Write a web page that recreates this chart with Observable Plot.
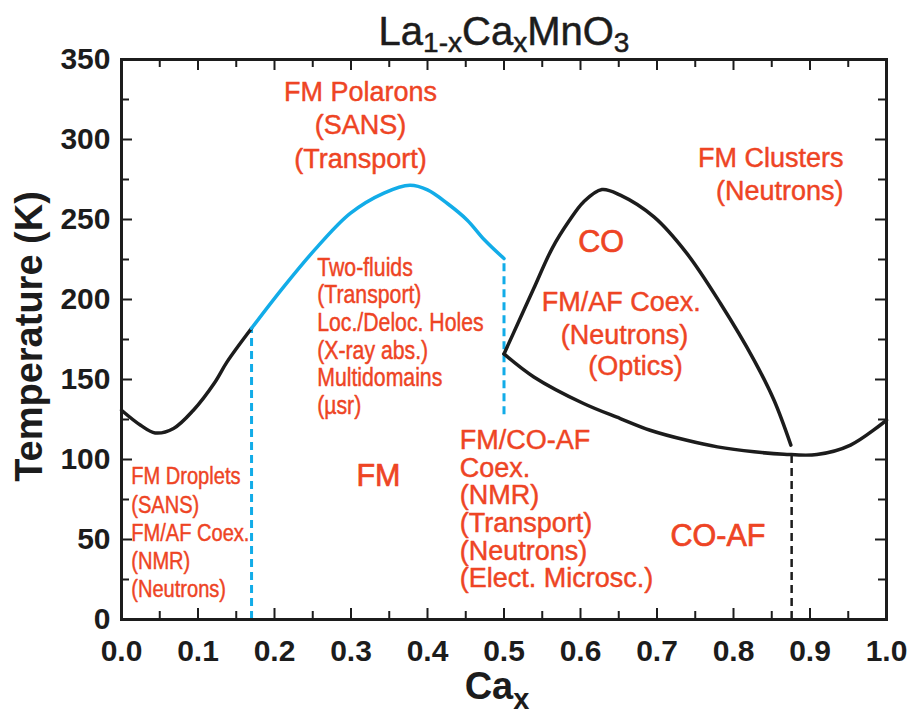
<!DOCTYPE html>
<html>
<head>
<meta charset="utf-8">
<script src="https://cdn.jsdelivr.net/npm/d3@7"></script>
<script src="https://cdn.jsdelivr.net/npm/@observablehq/plot@0.6"></script>
<style>
  html, body { margin: 0; padding: 0; background: #fff; }
  #chart { width: 907px; height: 713px; }
</style>
</head>
<body>
<div id="chart"></div>
<script>
// ---------------- data ----------------
const xMajorTicks = [0, 0.1, 0.2, 0.3, 0.4, 0.5, 0.6, 0.7, 0.8, 0.9, 1.0];
const xMinorTicks = [0.05, 0.15, 0.25, 0.35, 0.45, 0.55, 0.65, 0.75, 0.85, 0.95];
const yMajorTicks = [0, 50, 100, 150, 200, 250, 300, 350];
const yMinorTicks = [25, 75, 125, 175, 225, 275, 325];

// low-doping boundary (black)
const leftCurveX = [0, 0.025, 0.044, 0.068, 0.094, 0.121, 0.138, 0.17];
const leftCurveT = [130.8, 121.4, 116.6, 119.4, 130.8, 147.5, 161, 182];

// FM Curie temperature (blue)
const fmCurveX = [0.17, 0.212, 0.256, 0.299, 0.343, 0.377, 0.40, 0.426, 0.452, 0.474, 0.5];
const fmCurveT = [182, 207.9, 232.9, 253.8, 266.5, 271.4, 268.5, 260, 249.6, 237.5, 225.6];

// charge-order dome (black)
const coDomeX = [0.5, 0.52, 0.539, 0.563, 0.585, 0.604, 0.628, 0.652, 0.696, 0.739, 0.783, 0.827, 0.853, 0.875];
const coDomeT = [166, 187, 207, 232, 249, 261, 268.7, 265.2, 251.6, 228.8, 197.5, 162, 137, 109];

// AF / lower boundary (black)
const afCurveX = [0.5, 0.539, 0.604, 0.652, 0.691, 0.739, 0.779, 0.827, 0.866, 0.909, 0.953, 1.0];
const afCurveT = [166, 151.6, 135, 125.6, 118.3, 112, 107.9, 104.8, 103.3, 103.1, 109, 124.6];

// vertical dashed boundaries
const blueDashX = [0.17, 0.5];
const blueDashTop = [182, 225.6];
const blueDashBottom = [0, 128];
const blackDashX = [0.876];
const blackDashTop = [103];
const blackDashBottom = [0];

// titles
const titleParts = [["La", false], ["1-x", true], ["Ca", false], ["x", true], ["MnO", false], ["3", true]];
const xLabelParts = [["Ca", false], ["x", true]];
const yLabel = "Temperature (K)";

// annotations (text, x = Ca fraction, T = temperature of last baseline)
const midLabels = ["FM Polarons\n(SANS)\n(Transport)"];
const midLabelX = [0.3124];
const midLabelT = [282.5];

const coexLabels = ["FM/AF Coex.", "(Neutrons)", "(Optics)"];
const coexLabelX = [0.6533, 0.6575, 0.6719];
const coexLabelT = [193.1, 172.3, 153.1];

const clusterLabels = ["FM Clusters\n(Neutrons)"];
const clusterLabelX = [0.9438];
const clusterLabelT = [261.9];

const phaseLabels = ["CO", "FM", "CO-AF"];
const phaseLabelX = [0.627, 0.3359, 0.7797];
const phaseLabelT = [229.6, 83.75, 46.25];

const coafLabels = ["FM/CO-AF\nCoex.\n(NMR)\n(Transport)\n(Neutrons)\n(Elect. Microsc.)"];
const coafLabelX = [0.4422];
const coafLabelT = [20.1];

const twoFluidLabels = ["Two-fluids\n(Transport)\nLoc./Deloc. Holes\n(X-ray abs.)\nMultidomains\n(µsr)"];
const twoFluidLabelX = [0.2558];
const twoFluidLabelT = [128.4];

const dropletLabels = ["FM Droplets\n(SANS)\nFM/AF Coex.\n(NMR)\n(Neutrons)"];
const dropletLabelX = [0.0127];
const dropletLabelT = [13.9];

// ---------------- styles ----------------
const INK = "#1c1c1c";
const RED = "#EE4424";
const BLUE = "#12ACE8";
const FONT = "'Liberation Sans', Arial, Helvetica, sans-serif";
const FRAME_W = 907 - 121 - 21;   // inner plot width in px
const FRAME_H = 713 - 59 - 94;    // inner plot height in px
const MAJOR = 11, MINOR = 8;

const labelCommon = {fontSize: 30, fontWeight: "bold", fill: INK, label: null, tickSize: 0, stroke: "none"};
const tickStyle = {stroke: INK, strokeWidth: 2};
const redStyle = {fill: RED, stroke: RED, strokeWidth: 0.45};

const plot = Plot.plot({
  width: 907,
  height: 713,
  marginLeft: 121,
  marginRight: 21,
  marginTop: 59,
  marginBottom: 94,
  style: {fontFamily: FONT, background: "white", color: INK},
  x: {domain: [0, 1], label: null},
  y: {domain: [0, 350], label: null},
  marks: [
    // tick labels
    Plot.axisX(xMajorTicks, {...labelCommon, anchor: "bottom", tickPadding: 20, tickFormat: d3.format(".1f")}),
    Plot.axisY(yMajorTicks, {...labelCommon, anchor: "left", tickPadding: 11, tickFormat: d3.format("d")}),

    // inward ticks on all four sides
    Plot.tickX(xMajorTicks, {x: d => d, insetTop: FRAME_H - MAJOR, ...tickStyle}),
    Plot.tickX(xMinorTicks, {x: d => d, insetTop: FRAME_H - MINOR, ...tickStyle}),
    Plot.tickX(xMajorTicks, {x: d => d, insetBottom: FRAME_H - MAJOR, ...tickStyle}),
    Plot.tickX(xMinorTicks, {x: d => d, insetBottom: FRAME_H - MINOR, ...tickStyle}),
    Plot.tickY(yMajorTicks, {y: d => d, insetRight: FRAME_W - MAJOR, ...tickStyle}),
    Plot.tickY(yMinorTicks, {y: d => d, insetRight: FRAME_W - MINOR, ...tickStyle}),
    Plot.tickY(yMajorTicks, {y: d => d, insetLeft: FRAME_W - MAJOR, ...tickStyle}),
    Plot.tickY(yMinorTicks, {y: d => d, insetLeft: FRAME_W - MINOR, ...tickStyle}),

    // dashed verticals
    Plot.ruleX(blueDashX, {x: blueDashX, y1: blueDashBottom, y2: blueDashTop, stroke: BLUE, strokeWidth: 3, strokeDasharray: "8,5"}),
    Plot.ruleX(blackDashX, {x: blackDashX, y1: blackDashBottom, y2: blackDashTop, stroke: INK, strokeWidth: 2.5, strokeDasharray: "8,5"}),

    // phase boundaries
    Plot.line(leftCurveX, {x: leftCurveX, y: leftCurveT, curve: "catmull-rom", stroke: INK, strokeWidth: 3.5}),
    Plot.line(afCurveX, {x: afCurveX, y: afCurveT, curve: "catmull-rom", stroke: INK, strokeWidth: 3.5}),
    Plot.line(coDomeX, {x: coDomeX, y: coDomeT, curve: "catmull-rom", stroke: INK, strokeWidth: 3.5}),
    Plot.line(fmCurveX, {x: fmCurveX, y: fmCurveT, curve: "catmull-rom", stroke: BLUE, strokeWidth: 3.5}),

    // frame
    Plot.frame({stroke: INK, strokeWidth: 3}),

    // annotations
    Plot.text(midLabels, {x: midLabelX, y: midLabelT, text: d => d, ...redStyle, fontSize: 27, lineHeight: 1.24, lineAnchor: "bottom", textAnchor: "middle"}),
    Plot.text(coexLabels, {x: coexLabelX, y: coexLabelT, text: d => d, ...redStyle, fontSize: 27, lineAnchor: "bottom", textAnchor: "middle"}),
    Plot.text(clusterLabels, {x: clusterLabelX, y: clusterLabelT, text: d => d, ...redStyle, fontSize: 27, lineHeight: 1.23, lineAnchor: "bottom", textAnchor: "end"}),
    Plot.text(phaseLabels, {x: phaseLabelX, y: phaseLabelT, text: d => d, ...redStyle, strokeWidth: 0.7, fontSize: 30.5, lineAnchor: "bottom", textAnchor: "middle"}),
    Plot.text(coafLabels, {x: coafLabelX, y: coafLabelT, text: d => d, ...redStyle, fontSize: 27, lineHeight: 1.026, lineAnchor: "bottom", textAnchor: "start"}),
    Plot.text(twoFluidLabels, {x: twoFluidLabelX, y: twoFluidLabelT, text: d => d, ...redStyle, fontSize: 25, lineHeight: 1.108, lineAnchor: "bottom", textAnchor: "start"}),
    Plot.text(dropletLabels, {x: dropletLabelX, y: dropletLabelT, text: d => d, ...redStyle, fontSize: 24.2, lineHeight: 1.165, lineAnchor: "bottom", textAnchor: "start"}),

    // title and axis labels
    Plot.text([titleParts.map(p => p[0]).join("")], {text: d => d, frameAnchor: "top", dy: -15, lineAnchor: "bottom", textAnchor: "middle", fontSize: 40, fill: INK, stroke: INK, strokeWidth: 0.5}),
    Plot.text([xLabelParts.map(p => p[0]).join("")], {text: d => d, frameAnchor: "bottom", dx: -7, dy: 79, lineAnchor: "bottom", textAnchor: "middle", fontSize: 38, fontWeight: "bold", fill: INK}),
    Plot.text([yLabel], {text: d => d, frameAnchor: "left", rotate: -90, dx: -80, dy: -3, lineAnchor: "bottom", textAnchor: "middle", fontSize: 38, fontWeight: "bold", fill: INK})
  ]
});

// rich text (subscripts) for title and x label — found by their text content
function setRich(svg, parts, subSize, shift) {
  const full = parts.map(p => p[0]).join("");
  const t = Array.from(svg.querySelectorAll("text")).find(el => el.textContent === full);
  if (!t) return;
  t.textContent = "";
  for (const [s, sub] of parts) {
    const ts = document.createElementNS("http://www.w3.org/2000/svg", "tspan");
    ts.textContent = s;
    if (sub) {
      ts.setAttribute("font-size", subSize);
      ts.setAttribute("baseline-shift", shift);
    }
    t.appendChild(ts);
  }
}
setRich(plot, titleParts, "28px", "-7px");
setRich(plot, xLabelParts, "29px", "-10px");

// condensed face for the two narrow annotation blocks
function condense(labels, factor) {
  const keys = labels.map(s => s.replace(/\n/g, ""));
  plot.querySelectorAll("text").forEach(t => {
    if (keys.includes(t.textContent)) {
      t.setAttribute("transform", (t.getAttribute("transform") || "") + ` scale(${factor},1)`);
    }
  });
}
condense(twoFluidLabels, 0.85);
condense(dropletLabels, 0.83);

document.getElementById("chart").appendChild(plot);
</script>
</body>
</html>
